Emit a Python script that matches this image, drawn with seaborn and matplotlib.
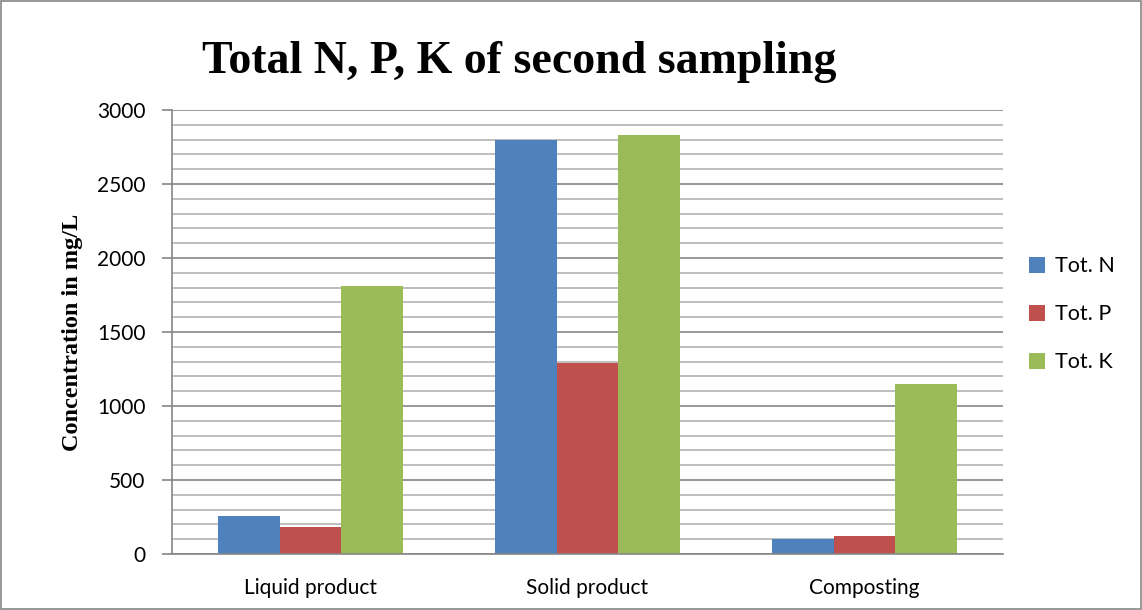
import matplotlib
matplotlib.use("Agg")
import matplotlib.pyplot as plt
import seaborn as sns
import pandas as pd
from matplotlib.ticker import MultipleLocator
from matplotlib.patches import Rectangle

# === andmed ===
kategooriad = ["Liquid product", "Solid product", "Composting"]
tot_n = [260, 2800, 100]
tot_p = [180, 1290, 125]
tot_k = [1810, 2830, 1150]
seeriad = ["Tot. N", "Tot. P", "Tot. K"]
varvid = ["#4f81bd", "#c0504d", "#9bbb59"]

df = pd.DataFrame({
    "kategooria": kategooriad * 3,
    "seeria": [s for s in seeriad for _ in kategooriad],
    "vaartus": tot_n + tot_p + tot_k,
})

sns.set_style("white")
plt.rcParams["font.family"] = ["Lato", "DejaVu Sans"]
plt.rcParams["text.color"] = "black"
plt.rcParams["xtick.color"] = "black"
plt.rcParams["ytick.color"] = "black"
plt.rcParams["axes.labelcolor"] = "black"

fig = plt.figure(figsize=(11.42, 6.10), dpi=100)
ax = fig.add_axes([0.1506, 0.0918, 0.7277, 0.7279])

sns.barplot(data=df, x="kategooria", y="vaartus", hue="seeria",
            palette=varvid, width=0.667, saturation=1, linewidth=0,
            ax=ax, legend=True)

ax.set_ylim(0, 3000)
ax.set_xlim(-0.5, 2.5)
ax.yaxis.set_major_locator(MultipleLocator(500))
ax.yaxis.set_minor_locator(MultipleLocator(100))
ax.grid(which="minor", axis="y", color="#b3b3b3", linewidth=1.2)
ax.grid(which="major", axis="y", color="#868686", linewidth=1.2)
ax.set_axisbelow(True)

for side in ["top", "right"]:
    ax.spines[side].set_visible(False)
for side in ["left", "bottom"]:
    ax.spines[side].set_color("#868686")
    ax.spines[side].set_linewidth(1.2)

# x teljel jaotised kategooriate vahel
ax.set_xticks([0, 1, 2])
ax.set_xticklabels(kategooriad)
ax.set_xticks([-0.5, 0.5, 1.5, 2.5], minor=True)
ax.tick_params(axis="x", which="major", length=0, pad=17, labelsize=15)
ax.tick_params(axis="x", which="minor", length=9, width=1.2, color="#868686")
ax.tick_params(axis="y", which="major", length=7, width=1.2, color="#868686",
               labelcolor="black", labelsize=15, pad=12, left=True)
ax.tick_params(axis="y", which="minor", length=0)

ax.set_xlabel("")
ax.set_ylabel("Concentration in mg/L", family="Liberation Serif",
              fontweight="bold", fontsize=17.5, labelpad=10)

fig.text(0.455, 0.898, "Total N, P, K of second sampling", ha="center", va="center",
         family="Liberation Serif", fontweight="bold", fontsize=33)

leg = ax.legend(loc="center left", bbox_to_anchor=(1.008, 0.54), frameon=False,
                fontsize=15.5, handlelength=0.75, handleheight=0.75,
                labelspacing=1.3, handletextpad=0.45)

fig.patches.append(Rectangle((0.001, 0.001), 0.998, 0.997, transform=fig.transFigure,
                             fill=False, edgecolor="#868686", linewidth=1.2))

plt.savefig("out.png", dpi=100)
